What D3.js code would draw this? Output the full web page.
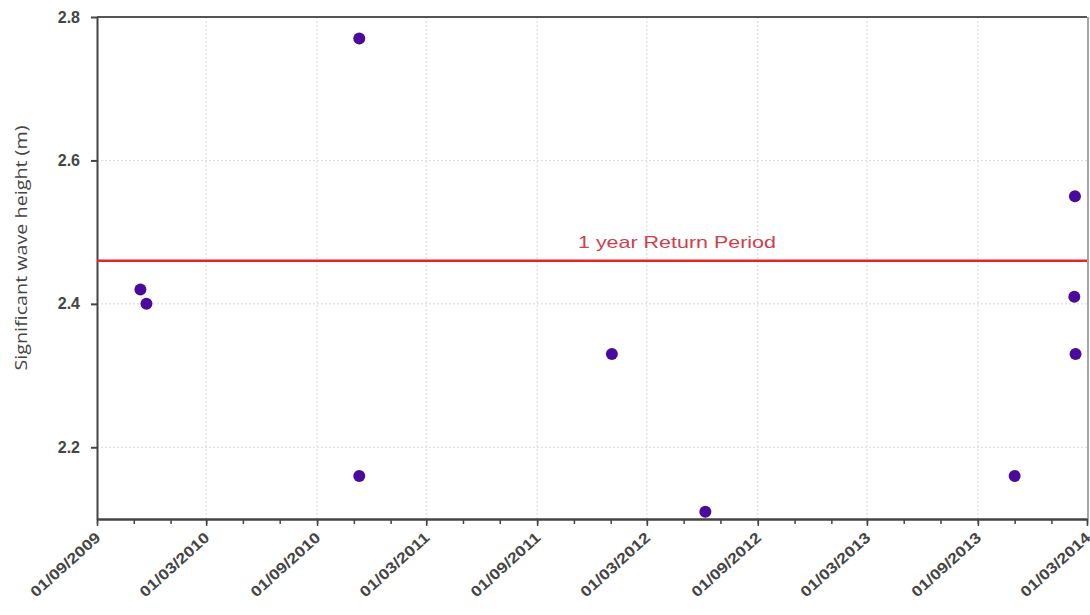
<!DOCTYPE html>
<html>
<head>
<meta charset="utf-8">
<script src="https://cdn.jsdelivr.net/npm/d3@7"></script>
<style>
  body { margin: 0; background: #fff; }
  svg { font-family: "Open Sans", "Liberation Sans", Arial, sans-serif; }
  .grid line { stroke: #d8d8d8; stroke-dasharray: 2,2; }
  .tick text { fill: #454545; }
</style>
</head>
<body>
<div id="chart"></div>
<script>
// data
var dates = ["12/11/2009", "22/11/2009", "10/11/2010", "10/11/2010", "03/01/2012",
             "06/06/2012", "01/11/2013", "09/02/2014", "08/02/2014", "10/02/2014"];
var heights = [2.42, 2.40, 2.77, 2.16, 2.33, 2.11, 2.16, 2.55, 2.41, 2.33];
var xTickLabels = ["01/09/2009", "01/03/2010", "01/09/2010", "01/03/2011", "01/09/2011",
                   "01/03/2012", "01/09/2012", "01/03/2013", "01/09/2013", "01/03/2014"];
var yTicks = [2.2, 2.4, 2.6, 2.8];
var returnPeriod = 2.46;
var returnLabel = "1 year Return Period";

var width = 1090, height = 615;
var pLeft = 97, pRight = 1087, pTop = 17, pBottom = 519;

var parse = d3.timeParse("%d/%m/%Y");
var fmt = d3.timeFormat("%d/%m/%Y");
var tickDates = xTickLabels.map(parse);
var lastTick = tickDates[tickDates.length - 1];

var x = d3.scaleTime()
    .domain([tickDates[0], lastTick])
    .range([pLeft, pRight]);
var y = d3.scaleLinear().domain([2.1, 2.8]).range([pBottom, pTop]);

var svg = d3.select("#chart").append("svg")
    .attr("width", width).attr("height", height);

// grid
var grid = svg.append("g").attr("class", "grid");
grid.selectAll(".v").data(tickDates.slice(1, -1)).enter().append("line")
    .attr("x1", function(d) { return x(d); }).attr("x2", function(d) { return x(d); })
    .attr("y1", pTop).attr("y2", pBottom);
grid.selectAll(".h").data(yTicks.slice(0, -1)).enter().append("line")
    .attr("x1", pLeft).attr("x2", pRight)
    .attr("y1", function(d) { return y(d); }).attr("y2", function(d) { return y(d); });

// frame top/right
svg.append("line").attr("x1", pLeft).attr("x2", pRight).attr("y1", pTop).attr("y2", pTop)
    .style("stroke", "#555").style("stroke-width", 2);
svg.append("line").attr("x1", pRight + 1).attr("x2", pRight + 1).attr("y1", pTop).attr("y2", pBottom)
    .style("stroke", "#888").style("stroke-width", 1.5);

// y axis
var yAxis = svg.append("g")
    .attr("transform", "translate(" + pLeft + ",0)")
    .call(d3.axisLeft(y).tickValues(yTicks).tickFormat(d3.format(".1f"))
      .tickSize(6).tickSizeOuter(0).tickPadding(11));
yAxis.selectAll("text").style("font-size", "16px").style("font-weight", 600);
yAxis.selectAll("line, path").style("stroke", "#444").style("stroke-width", 2);

// x axis: minor ticks every 2 months
var minor = d3.timeMonth.range(tickDates[0], d3.timeDay.offset(lastTick, 1), 2);
var xMinor = svg.append("g")
    .attr("transform", "translate(0," + pBottom + ")")
    .call(d3.axisBottom(x).tickValues(minor).tickFormat("").tickSize(5).tickSizeOuter(0));
xMinor.selectAll("line").style("stroke", "#444").style("stroke-width", 1.5);
xMinor.select("path").remove();

var xAxis = svg.append("g")
    .attr("transform", "translate(0," + pBottom + ")")
    .call(d3.axisBottom(x).tickValues(tickDates).tickFormat(fmt).tickSize(7).tickSizeOuter(0));
xAxis.selectAll("line").style("stroke", "#444").style("stroke-width", 1.5);
xAxis.select("path").style("stroke", "#444").style("stroke-width", 2.5);
xAxis.selectAll("text")
    .style("font-size", "15px")
    .style("font-weight", 600)
    .style("text-anchor", "end")
    .attr("textLength", 88).attr("lengthAdjust", "spacingAndGlyphs")
    .attr("x", 0).attr("y", 0).attr("dy", 0)
    .attr("transform", "translate(4,20) rotate(-42)");

// y axis label
svg.append("text")
    .attr("transform", "translate(27," + 248 + ") rotate(-90)")
    .attr("text-anchor", "middle")
    .attr("textLength", 245).attr("lengthAdjust", "spacingAndGlyphs")
    .style("font-size", "17px").style("fill", "#454545")
    .text("Significant wave height (m)");

// return period line
svg.append("line")
    .attr("x1", pLeft).attr("x2", pRight)
    .attr("y1", y(returnPeriod)).attr("y2", y(returnPeriod))
    .style("stroke", "#e0262a").style("stroke-width", 2.5);
svg.append("text")
    .attr("x", 677).attr("y", y(returnPeriod) - 13)
    .attr("text-anchor", "middle")
    .attr("textLength", 198).attr("lengthAdjust", "spacingAndGlyphs")
    .style("font-family", "'Liberation Sans', Arial, sans-serif")
    .style("font-size", "17px").style("fill", "#d0404c")
    .text(returnLabel);

// points
svg.selectAll(".pt").data(dates).enter().append("circle")
    .attr("class", "pt")
    .attr("cx", function(d) { return x(parse(d)); })
    .attr("cy", function(d, i) { return y(heights[i]); })
    .attr("r", 6)
    .style("fill", "#4a0a9c");
</script>
</body>
</html>
